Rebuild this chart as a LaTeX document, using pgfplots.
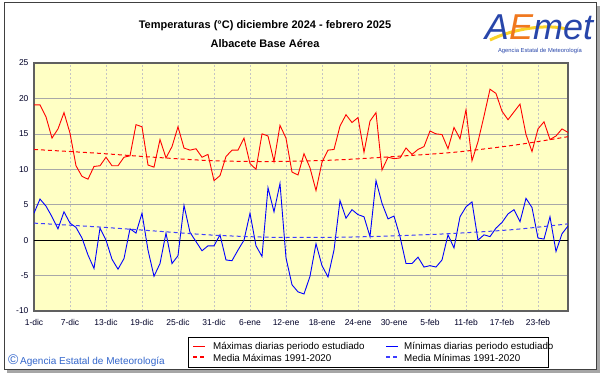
\documentclass[border=0pt]{standalone}
\usepackage{fontspec}
\setmainfont{Liberation Sans}
\usepackage{pgfplots}
\pgfplotsset{compat=1.18}
\definecolor{plotbg}{RGB}{255,255,196}
\definecolor{framegray}{RGB}{96,96,96}
\definecolor{gridh}{RGB}{168,168,168}
\definecolor{gridv}{RGB}{196,196,196}
\definecolor{ticktext}{RGB}{0,0,40}
\definecolor{aemetblue}{RGB}{40,70,170}
\definecolor{aemetorange}{RGB}{240,120,30}
\definecolor{aemetyellow}{RGB}{250,210,40}
\definecolor{copyblue}{RGB}{51,102,204}
\definecolor{meanblue}{RGB}{60,60,255}
\begin{document}
\begin{tikzpicture}[x=1pt,y=1pt]
% canvas
\fill[white] (0,0) rectangle (601,374);
% outer frame with shadow
\fill[gray!70] (7,1.5) rectangle (599,5);
\fill[gray!70] (596,1.5) rectangle (599.5,368);
\draw[black!75, line width=0.8pt] (4,5) rectangle (596,371.5);
% titles
\node[font=\bfseries\fontsize{11}{13}\selectfont] at (265,348) {Temperaturas (°C) diciembre 2024 - febrero 2025};
\node[font=\bfseries\fontsize{11}{13}\selectfont] at (265,330) {Albacete Base Aérea};
% logo
\draw[aemetyellow, line width=3pt] (490,334) .. controls (515,346) and (548,350) .. (566,345);
\node[font=\itshape\fontsize{36}{36}\selectfont, inner sep=0pt] at (539,347) {\textcolor{aemetblue}{A}\textcolor{aemetorange}{E}\textcolor{aemetblue}{met}};
\node[font=\fontsize{5.8}{6}\selectfont, text=aemetblue] at (540,323) {Agencia Estatal de Meteorología};
% copyright
\node[anchor=west, font=\fontsize{10}{11}\selectfont, text=copyblue, inner sep=0pt] at (8,13) {{\fontsize{14}{14}\selectfont ©}\,Agencia Estatal de Meteorología};
% legend key box
\draw[black, line width=0.9pt, fill=white] (188,7) rectangle (548,37);
\draw[red, line width=1.5pt] (193,27.5) -- (205,27.5);
\draw[red, line width=1.5pt, dash pattern=on 4pt off 3pt] (193,17) -- (205,17);
\draw[blue, line width=1.5pt] (386,27.5) -- (398,27.5);
\draw[meanblue, line width=1.5pt, dash pattern=on 4pt off 3pt] (386,17) -- (398,17);
\begin{scope}[every node/.style={anchor=west, inner sep=0pt, font=\fontsize{9.8}{10}\selectfont}]
\node at (213,27) {Máximas diarias periodo estudiado};
\node at (213,16.5) {Media Máximas 1991-2020};
\node at (404,27) {Mínimas diarias periodo estudiado};
\node at (404,16.5) {Media Mínimas 1991-2020};
\end{scope}
\begin{axis}[
  at={(34pt,63pt)}, anchor=south west,
  width=534pt, height=248pt, scale only axis,
  xmin=0, xmax=89, ymin=-10, ymax=25,
  axis background/.style={fill=plotbg},
  axis line style={draw=framegray, line width=1.5pt},
  xtick={0,6,...,84},
  xticklabels={1-dic,7-dic,13-dic,19-dic,25-dic,31-dic,6-ene,12-ene,18-ene,24-ene,30-ene,5-feb,11-feb,17-feb,23-feb},
  ytick={-10,-5,...,25},
  major tick length=0pt,
  grid=major,
  x grid style={draw=gridv, dash pattern=on 2pt off 2pt, line width=0.9pt},
  y grid style={draw=gridh, line width=0.7pt},
  tick label style={font=\fontsize{8.5}{10}\selectfont, text=ticktext},
  xticklabel style={yshift=-5pt},
  yticklabel style={xshift=-2pt},
  /pgf/number format/assume math mode=true,
]
\addplot[draw=black, line width=0.8pt, forget plot] coordinates {(0,0) (89,0)};
\addplot[draw=red, line width=0.9pt] coordinates {
(0,19.1)(1,19.1)(2,17.4)(3,14.4)(4,15.7)(5,18.0)(6,15.1)(7,10.5)(8,9.0)(9,8.6)
(10,10.4)(11,10.5)(12,11.7)(13,10.5)(14,10.5)(15,11.7)(16,11.9)(17,16.3)(18,16.0)(19,10.6)
(20,10.3)(21,14.2)(22,11.6)(23,13.2)(24,16.0)(25,13.0)(26,12.7)(27,12.9)(28,11.7)(29,12.1)
(30,8.4)(31,9.1)(32,11.8)(33,12.7)(34,12.7)(35,14.4)(36,10.8)(37,10.0)(38,15.0)(39,14.7)
(40,11.1)(41,16.2)(42,14.4)(43,9.6)(44,9.2)(45,12.2)(46,10.2)(47,7.0)(48,11.0)(49,12.7)
(50,12.8)(51,16.1)(52,17.7)(53,16.6)(54,17.3)(55,12.4)(56,16.8)(57,18.0)(58,9.9)(59,11.7)
(60,11.5)(61,11.6)(62,13.0)(63,12.1)(64,12.8)(65,13.2)(66,15.4)(67,15.0)(68,14.9)(69,12.9)
(70,15.9)(71,14.3)(72,18.4)(73,11.2)(74,13.9)(75,17.5)(76,21.3)(77,20.7)(78,18.2)(79,17.0)
(80,18.1)(81,19.2)(82,14.9)(83,12.5)(84,15.7)(85,16.7)(86,14.2)(87,14.7)(88,15.7)(89,15.2)};
\addplot[draw=blue, line width=0.9pt] coordinates {
(0,3.8)(1,5.8)(2,4.8)(3,3.3)(4,1.6)(5,4.0)(6,2.4)(7,1.8)(8,0.3)(9,-2.1)
(10,-4.0)(11,1.7)(12,0.0)(13,-2.7)(14,-4.1)(15,-2.6)(16,1.6)(17,1.0)(18,3.8)(19,-1.4)
(20,-5.1)(21,-3.3)(22,1.0)(23,-3.3)(24,-2.2)(25,4.9)(26,1.1)(27,-0.2)(28,-1.5)(29,-0.8)
(30,-0.8)(31,0.75)(32,-2.8)(33,-2.9)(34,-1.4)(35,0.0)(36,3.8)(37,-0.8)(38,-2.3)(39,7.4)
(40,4.0)(41,8.0)(42,-2.5)(43,-6.3)(44,-7.3)(45,-7.6)(46,-5.1)(47,-0.5)(48,-3.6)(49,-5.2)
(50,-1.4)(51,5.6)(52,3.1)(53,4.3)(54,3.6)(55,3.3)(56,0.5)(57,8.4)(58,5.2)(59,3.0)
(60,3.4)(61,0.5)(62,-3.3)(63,-3.3)(64,-2.4)(65,-3.8)(66,-3.6)(67,-3.8)(68,-2.8)(69,0.75)
(70,-1.1)(71,3.3)(72,4.7)(73,5.4)(74,0.0)(75,0.75)(76,0.5)(77,1.7)(78,2.5)(79,3.7)
(80,4.3)(81,2.6)(82,5.9)(83,4.6)(84,0.3)(85,0.15)(86,3.3)(87,-1.6)(88,0.9)(89,2.0)};
\addplot[draw=red, line width=1pt, dash pattern=on 4pt off 3pt, smooth] coordinates {
(0,12.8)(10,12.3)(20,11.7)(30,11.2)(40,11.1)(50,11.3)(60,11.8)(70,12.4)(80,13.4)(89,14.6)};
\addplot[draw=meanblue, line width=1pt, dash pattern=on 4pt off 3pt, smooth] coordinates {
(0,2.4)(10,1.9)(20,1.3)(30,0.7)(40,0.4)(50,0.4)(60,0.6)(70,0.95)(80,1.5)(89,2.3)};
\end{axis}
\end{tikzpicture}
\end{document}
